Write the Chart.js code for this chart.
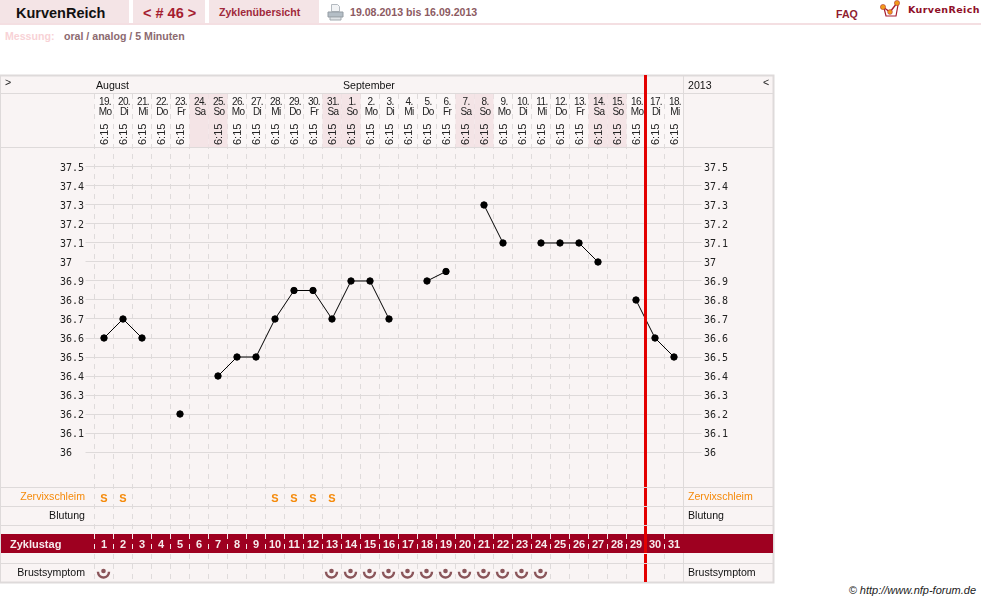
<!DOCTYPE html>
<html lang="de">
<head>
<meta charset="utf-8">
<title>KurvenReich</title>
<script src="https://cdn.jsdelivr.net/npm/chart.js@4/dist/chart.umd.js"></script>
<style>
  html, body { margin: 0; padding: 0; background: #fff; }
  body { position: relative; width: 981px; height: 602px; overflow: hidden; font-family: "Liberation Sans", Arial, sans-serif; font-size: 10.6px; }
  #curve { position: absolute; left: 0; top: 0; }
  .strip { position: absolute; left: 0; top: 23px; width: 981px; height: 2px; background: #f4dfe2; }
  .tab { position: absolute; top: 0; height: 23px; background: #f4e4e6; }
  .t { position: absolute; white-space: nowrap; font-weight: bold; line-height: 14px; }
  svg { position: absolute; }
</style>
</head>
<body>
<div class="strip"></div>
<div class="tab" style="left:0;width:129px"></div>
<div class="tab" style="left:133px;width:72px"></div>
<div class="tab" style="left:209px;width:110px"></div>
<div class="t" style="left:16px;top:6px;font-size:14.5px;color:#111">KurvenReich</div>
<div class="t" style="left:143px;top:6px;font-size:14.5px;color:#a51d30">&lt; # 46 &gt;</div>
<div class="t" style="left:219px;top:5px;color:#a0283a">Zyklenübersicht</div>
<svg style="left:327px;top:3px" width="17" height="18" viewBox="0 0 17 18">
  <path d="M4.5 1.5h6l2 2v5h-8z" fill="#f2f4f6" stroke="#b4bac0"/>
  <path d="M1 9h15v5H1z" fill="#b4bec6" stroke="#949ca3"/>
  <path d="M3 14h11v3H3z" fill="#dfe3e6" stroke="#a2a9af"/>
</svg>
<div class="t" style="left:350px;top:5px;color:#8c5a62">19.08.2013 bis 16.09.2013</div>
<div class="t" style="left:836px;top:7px;color:#8f1d30">FAQ</div>
<svg style="left:880px;top:0" width="20" height="19" viewBox="0 0 20 19">
  <path d="M4 8l2 8h10l2-11" fill="none" stroke="#a51d30" stroke-width="1.2"/>
  <path d="M3 7l7 5 7-9" fill="none" stroke="#a51d30" stroke-width="1.4"/>
  <circle cx="3" cy="7" r="2.6" fill="#f09a1a" stroke="#a51d30" stroke-width=".5"/>
  <circle cx="10" cy="12" r="2.4" fill="#f09a1a" stroke="#a51d30" stroke-width=".5"/>
  <circle cx="17" cy="3" r="2.6" fill="#f09a1a" stroke="#a51d30" stroke-width=".5"/>
</svg>
<div class="t" style="left:908px;top:3px;font:bold 9.5px 'DejaVu Sans';line-height:14px;color:#8f1028;letter-spacing:.4px">KurvenReich</div>
<div class="t" style="left:5px;top:29px;color:#f8d2d6">Messung:</div>
<div class="t" style="left:64px;top:29px;color:#8c6a70">oral / analog / 5 Minuten</div>
<div class="t" style="right:5px;top:583px;font-size:11px;font-weight:normal;font-style:italic;color:#222">© http://www.nfp-forum.de</div>

<canvas id="curve" width="981" height="602"></canvas>

<script>
// Zyklusdaten, je Tag eine Spalte
const cycleDays = ['1','2','3','4','5','6','7','8','9','10','11','12','13','14','15','16','17','18','19','20','21','22','23','24','25','26','27','28','29','30','31'];
const dateLabels = ['19.','20.','21.','22.','23.','24.','25.','26.','27.','28.','29.','30.','31.','1.','2.','3.','4.','5.','6.','7.','8.','9.','10.','11.','12.','13.','14.','15.','16.','17.','18.'];
const weekdayLabels = ['Mo','Di','Mi','Do','Fr','Sa','So','Mo','Di','Mi','Do','Fr','Sa','So','Mo','Di','Mi','Do','Fr','Sa','So','Mo','Di','Mi','Do','Fr','Sa','So','Mo','Di','Mi'];
const timeLabels = ['6:15','6:15','6:15','6:15','6:15','','6:15','6:15','6:15','6:15','6:15','6:15','6:15','6:15','6:15','6:15','6:15','6:15','6:15','6:15','6:15','6:15','6:15','6:15','6:15','6:15','6:15','6:15','6:15','6:15','6:15'];
const temperatures = [36.6,36.7,36.6,null,36.2,null,36.4,36.5,36.5,36.7,36.85,36.85,36.7,36.9,36.9,36.7,null,36.9,36.95,null,37.3,37.1,null,37.1,37.1,37.1,37,null,36.8,36.6,36.5];
const tempTicks = [36,36.1,36.2,36.3,36.4,36.5,36.6,36.7,36.8,36.9,37,37.1,37.2,37.3,37.4,37.5];
const mucusDays = [1,2,10,11,12,13];
const breastDays = [1,13,14,15,16,17,18,19,20,21,22,23,24];
const markerAfterDay = 29;

// Zeilen der Tabelle (Pixel)
const LINE = '#dedada', DASH = '#dfdbdb', PANEL = '#f9f4f4';
const rowLines = [93.5, 147.5, 487.5, 506.5, 525.5, 563.5];
const bandTop = 534, bandBottom = 553;

function label(ctx, text, x, y, font, color, align) {
  ctx.font = font;
  ctx.fillStyle = color;
  ctx.textAlign = align || 'left';
  ctx.textBaseline = 'middle';
  ctx.fillText(text, x, y);
}

const tablePlugin = {
  id: 'table',
  beforeDraw(chart) {
    const ctx = chart.ctx, x = chart.scales.x;
    ctx.save();
    ctx.fillStyle = PANEL;
    ctx.fillRect(0, 75, 774, 508);
    // helle Wochentagsspalten im Kopf
    ctx.fillStyle = '#fbf7f7';
    ctx.fillRect(x.left, 94, x.width, 53);
    ctx.restore();
  },
  beforeDatasetsDraw(chart) {
    const ctx = chart.ctx, x = chart.scales.x;
    const col = x.width / cycleDays.length;
    const font = '10.6px "Liberation Sans"';
    ctx.save();

    // Wochenenden
    weekdayLabels.forEach((d, i) => {
      if (d !== 'Sa' && d !== 'So') return;
      ctx.fillStyle = '#f4e4e6';
      ctx.fillRect(x.getPixelForValue(i) - col / 2, 94, col, 53);
    });

    // Zeilen und Rahmen
    ctx.strokeStyle = LINE;
    ctx.lineWidth = 1;
    ctx.beginPath();
    rowLines.forEach(y => { ctx.moveTo(0, y); ctx.lineTo(774, y); });
    ctx.moveTo(x.right, 75); ctx.lineTo(x.right, 583);
    ctx.stroke();
    ctx.lineWidth = 2;
    ctx.strokeRect(0, 75.5, 773.5, 507);

    // Zyklustag-Balken mit weissen Strichen
    ctx.fillStyle = '#9e0020';
    ctx.fillRect(1, bandTop, 772, bandBottom - bandTop);
    ctx.save();
    ctx.beginPath();
    ctx.rect(0, bandTop, 684, bandBottom - bandTop);
    ctx.clip();
    ctx.strokeStyle = '#f4e6e8';
    ctx.lineWidth = 1;
    ctx.setLineDash([5, 5]);
    for (let i = 0; i < cycleDays.length; i++) {
      const px = Math.round(x.getPixelForValue(i) - col / 2 - 0.5) + 0.5;
      ctx.beginPath();
      ctx.moveTo(px, chart.chartArea.top);
      ctx.lineTo(px, chart.chartArea.bottom);
      ctx.stroke();
    }
    ctx.restore();

    // Kopfzeile
    label(ctx, '>', 5, 83, font, '#222');
    label(ctx, 'August', 96, 86, font, '#111');
    label(ctx, 'September', 343, 86, font, '#111');
    label(ctx, '2013', 688, 86, font, '#111');
    label(ctx, '<', 763, 83, font, '#222');

    cycleDays.forEach((d, i) => {
      const cx = x.getPixelForValue(i);
      ctx.letterSpacing = '-0.6px';
      label(ctx, dateLabels[i], cx + 1, 102, '10px "Liberation Sans"', '#222', 'center');
      label(ctx, weekdayLabels[i], cx + 1, 112, '10px "Liberation Sans"', '#222', 'center');
      ctx.letterSpacing = '0px';
      if (timeLabels[i]) {
        ctx.save();
        ctx.translate(cx + 1, 145);
        ctx.rotate(-Math.PI / 2);
        label(ctx, timeLabels[i], 0, 0, '11px "Liberation Sans"', '#222');
        ctx.restore();
      }
      label(ctx, d, cx, 545, 'bold 11px "Liberation Sans"', '#f6eaec', 'center');
    });

    // Zeilenbeschriftungen
    label(ctx, 'Zervixschleim', 85, 497, font, '#f58a0a', 'right');
    label(ctx, 'Zervixschleim', 688, 497, font, '#f58a0a');
    label(ctx, 'Blutung', 85, 516, font, '#111', 'right');
    label(ctx, 'Blutung', 688, 516, font, '#111');
    label(ctx, 'Zyklustag', 10, 545, 'bold 11px "Liberation Sans"', '#f6eaec');
    label(ctx, 'Brustsymptom', 85, 573, font, '#111', 'right');
    label(ctx, 'Brustsymptom', 688, 573, font, '#111');

    // Zervixschleim und Brustsymptom je Tag
    mucusDays.forEach(d => {
      label(ctx, 'S', x.getPixelForValue(d - 1), 499, 'bold 11px "Liberation Sans"', '#f58a0a', 'center');
    });
    breastDays.forEach(d => {
      const cx = x.getPixelForValue(d - 1) - 0.5;
      ctx.fillStyle = ctx.strokeStyle = '#8a555a';
      ctx.lineWidth = 2.4;
      ctx.beginPath();
      ctx.arc(cx, 572, 5.5, -0.05, Math.PI + 0.05);
      ctx.stroke();
      ctx.beginPath();
      ctx.arc(cx, 571, 2.3, 0, Math.PI * 2);
      ctx.fill();
    });
    ctx.restore();
  },
  afterDatasetsDraw(chart) {
    // rote Linie, an den Zeilen kurz unterbrochen
    const ctx = chart.ctx, x = chart.scales.x;
    const px = x.getPixelForValue(markerAfterDay - 1) + x.width / cycleDays.length / 2;
    const stops = [75, 487, 488, 506, 507, 525, 526, 553, 554, 563, 564, 582];
    ctx.save();
    ctx.fillStyle = '#e30000';
    for (let i = 0; i < stops.length; i += 2) {
      ctx.fillRect(px - 1.5, stops[i], 3, stops[i + 1] - stops[i]);
    }
    ctx.restore();
  }
};

const tickFont = { family: '"DejaVu Sans Mono"', size: 10 };
const setTicks = axis => { axis.ticks = tempTicks.map(value => ({ value })); };

new Chart(document.getElementById('curve'), {
  type: 'line',
  data: {
    labels: cycleDays,
    datasets: [{
      data: temperatures,
      yAxisID: 'y',
      borderColor: '#000',
      borderWidth: 1,
      backgroundColor: '#000',
      pointBackgroundColor: '#000',
      pointBorderColor: '#000',
      pointRadius: 3.2,
      pointBorderWidth: 1,
      tension: 0,
      spanGaps: false
    }]
  },
  options: {
    responsive: false,
    animation: false,
    events: [],
    layout: { padding: { left: 60, right: 197.5, top: 94, bottom: 20 } },
    plugins: { legend: { display: false }, tooltip: { enabled: false } },
    scales: {
      x: {
        offset: true,
        afterFit(axis) { axis.height = 0; },
        ticks: { display: false },
        grid: { offset: true, color: DASH, lineWidth: 1, tickLength: 0, drawTicks: false },
        border: { display: false, dash: [5, 5] }
      },
      y: {
        position: 'left',
        min: 35.316,
        max: 37.884,
        afterBuildTicks: setTicks,
        afterFit(axis) { axis.width = 34.5; },
        border: { display: false },
        grid: { color: LINE, tickColor: LINE, tickLength: 9 },
        ticks: { autoSkip: false, crossAlign: 'far', padding: 0, labelOffset: 1, color: '#222', font: tickFont, callback: v => String(v) }
      },
      y2: {
        position: 'right',
        min: 35.316,
        max: 37.884,
        afterBuildTicks: setTicks,
        afterFit(axis) { axis.width = 100; },
        border: { display: false },
        grid: { drawOnChartArea: false, color: LINE, tickColor: LINE, tickLength: 18 },
        ticks: { autoSkip: false, padding: 2.5, labelOffset: 1, color: '#222', font: tickFont, callback: v => String(v) }
      }
    }
  },
  plugins: [tablePlugin]
});
</script>
</body>
</html>
